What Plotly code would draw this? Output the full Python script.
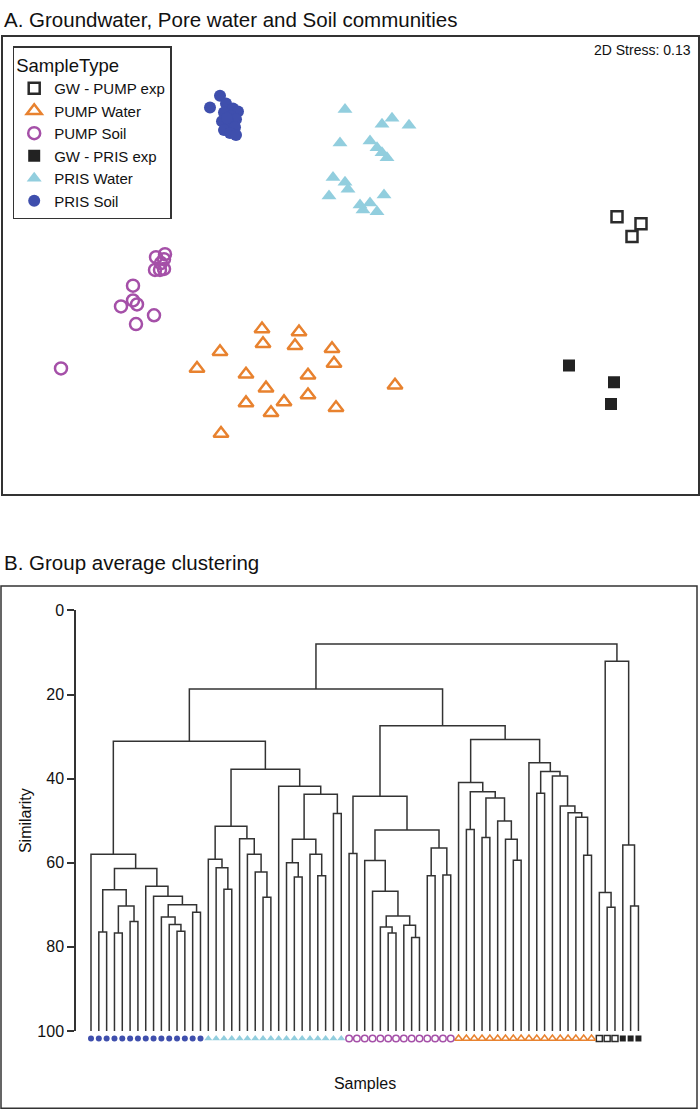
import plotly.graph_objects as go

W, H = 700, 1119
FONT = "Liberation Sans, Arial, Helvetica, sans-serif"
LINE = "#333333"

# ---------------- Panel A: NMDS ordination (arbitrary NMDS units) ----------------
gw_pump_x = [2.67, 2.91, 2.82]
gw_pump_y = [0.49, 0.42, 0.29]

pump_water_x = [-0.88, -0.51, -0.87, -0.55, -0.18, -1.30, -0.16, -1.53, -1.04,
                -0.42, 0.45, -0.84, -0.42, -1.04, -0.66, -0.14, -0.79, -1.29]
pump_water_y = [-0.65, -0.68, -0.80, -0.82, -0.85, -0.88, -1.00, -1.05, -1.11,
                -1.12, -1.22, -1.25, -1.32, -1.40, -1.39, -1.45, -1.50, -1.71]

pump_soil_x = [-1.85, -1.94, -1.86, -1.89, -1.95, -1.90, -1.86,
               -2.17, -2.17, -2.29, -2.13, -1.96, -2.14, -2.89]
pump_soil_y = [0.11, 0.08, 0.06, 0.02, -0.05, -0.05, -0.04,
               -0.21, -0.36, -0.42, -0.40, -0.51, -0.60, -1.05]

gw_pris_x = [2.19, 2.64, 2.61]
gw_pris_y = [-1.02, -1.19, -1.41]

pris_water_x = [-0.05, -0.10, -0.17, -0.05, -0.02, -0.21, 0.42, 0.32, 0.59,
                0.20, 0.27, 0.32, 0.37, 0.34, 0.10, 0.20, 0.27, 0.13]
pris_water_y = [1.58, 1.24, 0.89, 0.84, 0.77, 0.70, 1.49, 1.43, 1.42,
                1.26, 1.19, 1.14, 1.09, 0.71, 0.61, 0.63, 0.54, 0.56]

pris_soil_x = [-1.40, -1.30, -1.24, -1.17, -1.12, -1.26, -1.19, -1.14,
               -1.28, -1.21, -1.15, -1.26, -1.20, -1.14, -1.23]
pris_soil_y = [1.60, 1.72, 1.64, 1.59, 1.56, 1.55, 1.51, 1.48,
               1.46, 1.43, 1.40, 1.37, 1.34, 1.32, 1.49]

stress_label = "2D Stress: 0.13"

# ---------------- Panel B: group-average clustering ----------------
leaf_groups = (["PRIS Soil"] * 15 + ["PRIS Water"] * 18 + ["PUMP Soil"] * 14 +
               ["PUMP Water"] * 18 + ["GW - PUMP exp"] * 3 + ["GW - PRIS exp"] * 3)

# linkage: [left id, right id, similarity]; new node ids start at len(leaf_groups)
merges = [
    [1, 2, 76.5], [3, 4, 76.7], [5, 6, 74.0], [72, 73, 70.3], [71, 74, 66.4],
    [11, 12, 76.3], [10, 76, 74.7], [9, 77, 72.9], [13, 14, 71.8], [78, 79, 70.0],
    [8, 80, 68.0], [7, 81, 65.6], [75, 82, 61.4], [0, 83, 58.0],
    [17, 18, 66.3], [16, 85, 61.2], [15, 86, 59.2], [22, 23, 68.2], [21, 88, 62.2],
    [20, 89, 58.0], [19, 90, 54.3], [87, 91, 51.3], [26, 27, 63.4], [25, 93, 60.0],
    [29, 30, 63.1], [28, 95, 58.0], [94, 96, 54.4], [31, 32, 48.3], [97, 98, 43.7],
    [24, 99, 41.8], [92, 100, 37.8], [84, 101, 31.1],
    [33, 34, 57.8], [38, 39, 76.7], [37, 104, 75.3], [41, 42, 77.8], [40, 106, 74.9],
    [105, 107, 72.7], [36, 108, 66.8], [35, 109, 59.5], [43, 44, 63.1], [45, 46, 62.9],
    [111, 112, 56.5], [110, 113, 52.2], [103, 114, 44.2],
    [48, 49, 52.1], [50, 51, 54.0], [54, 55, 59.4], [53, 118, 54.4], [52, 119, 50.1],
    [117, 120, 44.6], [116, 121, 43.1], [47, 122, 40.9], [57, 58, 43.5], [63, 64, 58.2],
    [62, 125, 49.2], [61, 126, 48.1], [60, 127, 46.5], [59, 128, 39.4], [124, 129, 38.3],
    [56, 130, 36.2], [123, 131, 30.7], [115, 132, 27.4], [102, 133, 18.7],
    [66, 67, 70.6], [65, 135, 67.1], [69, 70, 70.3], [68, 137, 55.8], [136, 138, 12.1],
    [134, 139, 8.0],
]
sim_ticks = [0, 20, 40, 60, 80, 100]
leaf_base = 100.0
marker_row = 101.8

styles = {
    "GW - PUMP exp": dict(symbol="square-open", color="#2b2b2b", size=11, lw=2.5, dsize=6, dlw=1.5),
    "PUMP Water": dict(symbol="triangle-up-open", color="#E8822F", size=13, lw=2.5, dsize=7, dlw=1.5),
    "PUMP Soil": dict(symbol="circle-open", color="#A550A8", size=12, lw=2.5, dsize=6.5, dlw=1.5),
    "GW - PRIS exp": dict(symbol="square", color="#222222", size=12, lw=0, dsize=6, dlw=0),
    "PRIS Water": dict(symbol="triangle-up", color="#92CEDE", size=13, lw=0, dsize=7, dlw=0),
    "PRIS Soil": dict(symbol="circle", color="#3F4FAD", size=12, lw=0, dsize=6, dlw=0),
}
nmds = [
    ("GW - PUMP exp", gw_pump_x, gw_pump_y),
    ("PUMP Water", pump_water_x, pump_water_y),
    ("PUMP Soil", pump_soil_x, pump_soil_y),
    ("GW - PRIS exp", gw_pris_x, gw_pris_y),
    ("PRIS Water", pris_water_x, pris_water_y),
    ("PRIS Soil", pris_soil_x, pris_soil_y),
]

fig = go.Figure()
for name, xs, ys in nmds:
    st = styles[name]
    fig.add_trace(go.Scatter(
        x=xs, y=ys, mode="markers", name=name, xaxis="x", yaxis="y",
        marker=dict(symbol=st["symbol"], color=st["color"], size=st["size"],
                    line=dict(width=st["lw"], color=st["color"])),
        hoverinfo="name"))

# dendrogram lines
n = len(leaf_groups)
pos = {i: float(i) for i in range(n)}
hgt = {i: leaf_base for i in range(n)}
dx, dy = [], []
for k, (a, b, h) in enumerate(merges):
    node = n + k
    dx += [pos[a], pos[a], pos[b], pos[b], None]
    dy += [hgt[a], h, h, hgt[b], None]
    pos[node] = (pos[a] + pos[b]) / 2
    hgt[node] = h
fig.add_trace(go.Scatter(x=dx, y=dy, mode="lines", xaxis="x2", yaxis="y2",
                         line=dict(color=LINE, width=1.5), showlegend=False,
                         hoverinfo="skip", cliponaxis=False))

# leaf symbols (on an invisible axis with the same scale, extended below 100)
for name in styles:
    idx = [i for i, g in enumerate(leaf_groups) if g == name]
    st = styles[name]
    fig.add_trace(go.Scatter(
        x=idx, y=[marker_row] * len(idx), mode="markers", xaxis="x2", yaxis="y4",
        showlegend=False, name=name,
        marker=dict(symbol=st["symbol"], color=st["color"], size=st["dsize"],
                    line=dict(width=st["dlw"], color=st["color"]))))


def px_x(p):
    return p / W


def px_y(p):
    return 1 - p / H


Y0_PX, Y100_PX = 611.7, 1038.7
scale = (Y100_PX - Y0_PX) / 100.0
Y4_BOTTOM = 1060.0

fig.update_layout(
    width=W, height=H, autosize=False,
    margin=dict(l=0, r=0, t=0, b=0),
    paper_bgcolor="white", plot_bgcolor="rgba(0,0,0,0)",
    font=dict(family=FONT, color="#111111", size=16),
    showlegend=True,
    xaxis=dict(domain=[px_x(3), px_x(698)], range=[-3.47, 3.48], anchor="y",
               showticklabels=False, ticks="", showgrid=False, zeroline=False,
               showline=True, mirror=True, linecolor=LINE, linewidth=1.5),
    yaxis=dict(domain=[px_y(493), px_y(29)], range=[-2.32, 2.32], anchor="x",
               showticklabels=False, ticks="", showgrid=False, zeroline=False,
               showline=True, mirror=True, linecolor=LINE, linewidth=1.5),
    xaxis2=dict(domain=[px_x(76), px_x(654)], range=[-1.918, 71.99], anchor="y2",
                showticklabels=False, ticks="", showgrid=False, zeroline=False,
                showline=False,
                title=dict(text="Samples", font=dict(size=16), standoff=46)),
    yaxis2=dict(domain=[px_y(Y100_PX), px_y(Y0_PX)], range=[100, 0], anchor="x2",
                tickvals=sim_ticks, ticks="outside", ticklen=7, tickwidth=1.5,
                tickcolor=LINE, showline=True, linecolor=LINE, linewidth=1.5,
                showgrid=False, zeroline=False, tickfont=dict(size=16),
                title=dict(text="Similarity", font=dict(size=16), standoff=2)),
    yaxis3=dict(range=[100, 0], anchor="x2",
                overlaying="y2", side="left", tickvals=sim_ticks, ticks="inside",
                ticklen=7, tickwidth=1.5, tickcolor=LINE, showticklabels=False,
                showline=False, showgrid=False, zeroline=False),
    yaxis4=dict(domain=[px_y(Y4_BOTTOM), px_y(Y0_PX)],
                range=[(Y4_BOTTOM - Y0_PX) / scale, 0], anchor="x2",
                visible=False, showgrid=False, zeroline=False),
    legend=dict(x=px_x(12.7), y=px_y(39), xanchor="left", yanchor="top",
                bgcolor="white", bordercolor=LINE, borderwidth=1.5,
                font=dict(size=15), tracegroupgap=0,
                title=dict(text="SampleType", font=dict(size=18.5))),
    shapes=[dict(type="rect", xref="paper", yref="paper",
                 x0=px_x(1), x1=px_x(697), y0=px_y(1117.3), y1=px_y(587),
                 line=dict(color=LINE, width=1.5))],
    annotations=[
        dict(text="A. Groundwater, Pore water and Soil communities", xref="paper",
             yref="paper", x=px_x(2), y=px_y(12), xanchor="left", yanchor="middle",
             showarrow=False, font=dict(size=20.5)),
        dict(text="B. Group average clustering", xref="paper", yref="paper",
             x=px_x(2), y=px_y(563), xanchor="left", yanchor="middle",
             showarrow=False, font=dict(size=20.5)),
        dict(text=stress_label, xref="paper", yref="paper", x=px_x(693),
             y=px_y(43), xanchor="right", yanchor="middle", showarrow=False,
             font=dict(size=14)),
    ],
)

fig.write_html(
    "out.html",
    config={"displayModeBar": False},
    post_script=("document.documentElement.style.margin='0';"
                 "document.documentElement.style.overflow='hidden';"
                 "document.body.style.margin='0';"
                 "document.body.style.padding='0';"
                 "document.body.style.overflow='hidden';"
                 "var d=document.getElementById('{plot_id}');"
                 "if(d){d.style.position='fixed';d.style.left='0px';d.style.top='0px';}"),
)
